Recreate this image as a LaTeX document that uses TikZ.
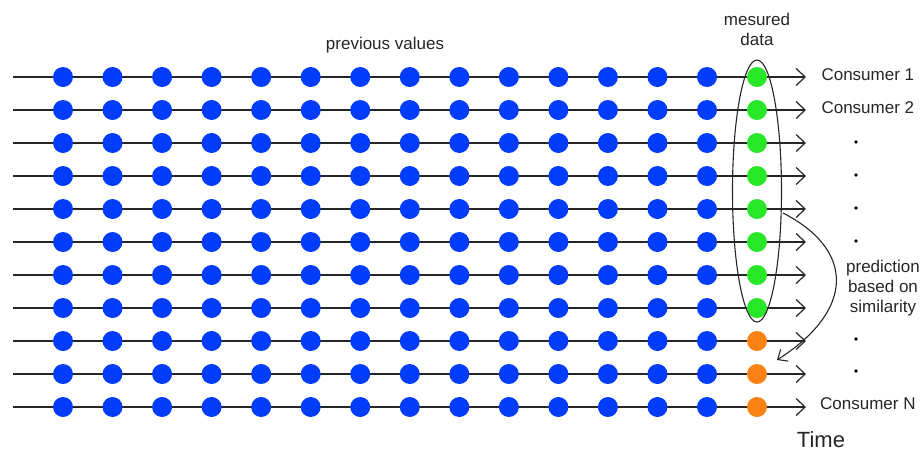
\documentclass[tikz,border=0pt]{standalone}
\usepackage{fontspec}
\setmainfont{Liberation Sans}
\usetikzlibrary{arrows.meta,shapes.geometric}
\definecolor{dotblue}{RGB}{0,60,250}
\definecolor{dotgreen}{RGB}{40,230,40}
\definecolor{dotorange}{RGB}{250,130,20}
\begin{document}
\begin{tikzpicture}[x=1pt,y=-1pt,
  timeline/.style={draw=black!85, line width=1.3pt, -{Straight Barb[length=9pt,width=17pt,line width=1.2pt]}},
  dotnode/.style={circle, inner sep=0pt, minimum size=20pt, fill=#1},
  lbl/.style={font=\fontsize{17}{20}\selectfont, text=black!85},
  bigdot/.style={circle, inner sep=0pt, minimum size=3.8pt, fill=black}]
\useasboundingbox (0,0) rectangle (922,451);
\foreach \r in {1,...,11}{
  \pgfmathsetmacro{\yy}{77+33*(\r-1)}
  \coordinate (s\r) at (13,\yy);
  \coordinate (e\r) at (806,\yy);
  \draw[timeline] (s\r) -- (e\r);
  \foreach \c in {1,...,14}{
    \node[dotnode=dotblue] (d\r-\c) at ({63+49.54*(\c-1)},\yy) {};
  }
}
\foreach \r in {1,...,8}{
  \node[dotnode=dotgreen] (g\r) at (757,{77+33*(\r-1)}) {};
}
\foreach \r in {9,10,11}{
  \node[dotnode=dotorange] (g\r) at (757,{77+33*(\r-1)}) {};
}
\node[draw=black!85, line width=1.1pt, ellipse, minimum width=49pt, minimum height=262pt, inner sep=0pt] (ell) at (757,191) {};
\node[lbl, align=center] (meas) at (757,29) {mesured\\data};
\node[lbl] (prev) at (385,45) {previous values};
\node[lbl, anchor=west] (c1) at (818,75) {Consumer 1};
\node[lbl, anchor=west] (c2) at (818,108) {Consumer 2};
\foreach \y/\n in {142/a,175/b,208/c,241/d,339/e,371/f}{
  \node[bigdot] (p\n) at (856,\y) {};
}
\node[lbl, align=center] (pred) at (883,288) {prediction\\based on\\similarity};
\node[lbl, anchor=west, inner sep=1pt] (cN) at (819,404) {Consumer N};
\node[font=\fontsize{22}{24}\selectfont, text=black!85] (time) at (821,440) {Time};
\coordinate (arrS) at (783,213);
\coordinate (arrE) at (777,360);
\draw[draw=black!85, line width=1.1pt, -{Straight Barb[length=8pt,width=14pt,line width=1.1pt]}]
  (arrS) .. controls (855,250) and (855,310) .. (arrE);
\end{tikzpicture}
\end{document}
